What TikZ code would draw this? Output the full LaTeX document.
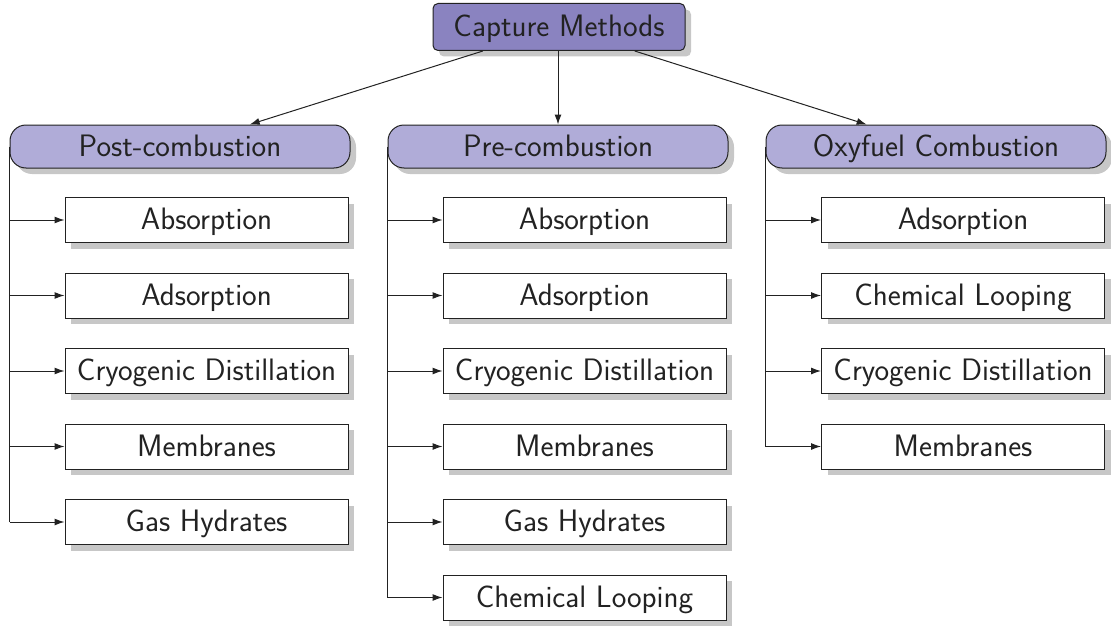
\documentclass[tikz,border=0pt]{standalone}
\usepackage{fontspec}
\usetikzlibrary{shadows,arrows.meta}
\definecolor{rootfill}{HTML}{8A83C0}
\definecolor{headfill}{HTML}{B0ACD8}
\definecolor{inkgrey}{HTML}{222222}
\tikzset{
  boxshadow/.style={drop shadow={shadow xshift=6pt, shadow yshift=-6pt, fill=black!22, opacity=1}},
  anybox/.style={draw=inkgrey, line width=1pt, inner sep=0pt,
    text height=24pt, text depth=5pt, boxshadow},
  rootbox/.style={anybox, fill=rootfill, rounded corners=5pt,
    minimum width=252pt, minimum height=47pt},
  headbox/.style={anybox, fill=headfill, rounded corners=16pt,
    minimum width=340pt, minimum height=43pt},
  leafbox/.style={anybox, fill=white,
    minimum width=283pt, minimum height=45pt},
  link/.style={draw=inkgrey, line width=1pt, -{Latex[length=10pt,width=7pt]}},
  trunk/.style={draw=inkgrey, line width=1pt},
}
\begin{document}
\begin{tikzpicture}[x=1pt, y=-1pt, font=\sffamily\fontsize{31}{36}\selectfont, text=inkgrey]
\useasboundingbox (0,0) rectangle (1111,626);

\node[rootbox] (cm) at (559,27) {Capture Methods};

\node[headbox] (post) at (180,146.5) {Post-combustion};
\node[headbox] (pre)  at (558,146.5) {Pre-combustion};
\node[headbox] (oxy)  at (936,146.5) {Oxyfuel Combustion};

\draw[link] (cm) -- (post);
\draw[link] (cm.south -| pre.north) -- (pre.north);
\draw[link] (cm) -- (oxy);

% Post-combustion branch
\node[leafbox] (p1) at (206.5,220) {Absorption};
\node[leafbox] (p2) at (206.5,295.5) {Adsorption};
\node[leafbox] (p3) at (206.5,371) {Cryogenic Distillation};
\node[leafbox] (p4) at (206.5,446.5) {Membranes};
\node[leafbox] (p5) at (206.5,522) {Gas Hydrates};

% Pre-combustion branch
\node[leafbox] (q1) at (584.5,220) {Absorption};
\node[leafbox] (q2) at (584.5,295.5) {Adsorption};
\node[leafbox] (q3) at (584.5,371) {Cryogenic Distillation};
\node[leafbox] (q4) at (584.5,446.5) {Membranes};
\node[leafbox] (q5) at (584.5,522) {Gas Hydrates};
\node[leafbox] (q6) at (584.5,597.5) {Chemical Looping};

% Oxyfuel branch
\node[leafbox] (o1) at (963,220) {Adsorption};
\node[leafbox] (o2) at (963,295.5) {Chemical Looping};
\node[leafbox] (o3) at (963,371) {Cryogenic Distillation};
\node[leafbox] (o4) at (963,446.5) {Membranes};

\draw[trunk] (post.west) -- (post.west |- p5.west);
\draw[trunk] (pre.west) -- (pre.west |- q6.west);
\draw[trunk] (oxy.west) -- (oxy.west |- o4.west);

\foreach \c in {p1,p2,p3,p4,p5} \draw[link] (post.west |- \c.west) -- (\c.west);
\foreach \c in {q1,q2,q3,q4,q5,q6} \draw[link] (pre.west |- \c.west) -- (\c.west);
\foreach \c in {o1,o2,o3,o4} \draw[link] (oxy.west |- \c.west) -- (\c.west);
\end{tikzpicture}
\end{document}
